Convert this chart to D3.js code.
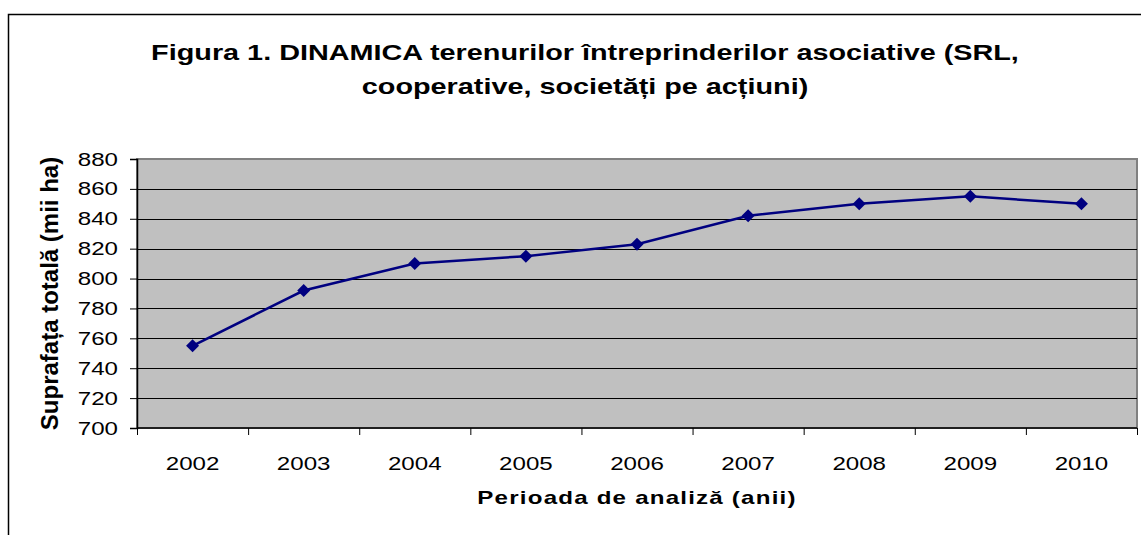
<!DOCTYPE html>
<html>
<head>
<meta charset="utf-8">
<script src="https://cdn.jsdelivr.net/npm/d3@7"></script>
<style>
  body { margin: 0; background: #fff; }
  text { font-family: Arial, "Liberation Sans", sans-serif; fill: #000; }
</style>
</head>
<body>
<div id="chart"></div>
<script>
const years = ["2002", "2003", "2004", "2005", "2006", "2007", "2008", "2009", "2010"];
const surface = [755, 792, 810, 815, 823, 842, 850, 855, 850];
const yTicks = [700, 720, 740, 760, 780, 800, 820, 840, 860, 880];
const titleLines = [
    "Figura 1. DINAMICA terenurilor întreprinderilor asociative (SRL,",
    "cooperative, societăți pe acțiuni)"
];

const width = 1141, height = 535;
const plot = { left: 137, top: 159, right: 1137, bottom: 428 };
// the source picture is stretched sideways, so text is widened to match
const sx = 1.34;

const svg = d3.select("#chart").append("svg")
    .attr("width", width)
    .attr("height", height);

// outer chart frame
svg.append("rect")
    .attr("x", 8.5).attr("y", 14.5)
    .attr("width", width + 20).attr("height", height + 20)
    .attr("fill", "none")
    .attr("stroke", "#000")
    .attr("stroke-width", 1.5);

const x = d3.scaleBand().domain(years).range([plot.left, plot.right]);
const y = d3.scaleLinear().domain([700, 880]).range([plot.bottom, plot.top]);

// plot area
svg.append("rect")
    .attr("x", plot.left).attr("y", plot.top)
    .attr("width", plot.right - plot.left).attr("height", plot.bottom - plot.top)
    .attr("fill", "#c0c0c0")
    .attr("stroke", "#808080")
    .attr("stroke-width", 2);

// gridlines
svg.append("g")
    .selectAll("line")
    .data(yTicks.slice(1, -1))
    .join("line")
    .attr("x1", plot.left).attr("x2", plot.right)
    .attr("y1", d => Math.round(y(d)) + 0.5).attr("y2", d => Math.round(y(d)) + 0.5)
    .attr("stroke", "#000")
    .attr("stroke-width", 1);

// y axis
const yAxis = svg.append("g")
    .attr("transform", `translate(${plot.left},0)`)
    .call(d3.axisLeft(y).tickValues(yTicks).tickSize(7).tickFormat(""));
yAxis.select(".domain").attr("stroke", "#000").attr("stroke-width", 1.5);
yAxis.selectAll(".tick line").attr("stroke", "#000");

svg.append("g")
    .selectAll("text")
    .data(yTicks)
    .join("text")
    .attr("transform", d => `translate(118,${y(d) + 6.5}) scale(${sx},1)`)
    .attr("text-anchor", "end")
    .attr("font-size", 18)
    .text(d => d);

// x axis: ticks on category boundaries
const xAxisG = svg.append("g")
    .attr("transform", `translate(0,${plot.bottom})`);
xAxisG.append("line")
    .attr("x1", plot.left).attr("x2", plot.right)
    .attr("stroke", "#000").attr("stroke-width", 1.5);
xAxisG.selectAll(".bt")
    .data(years.concat(["end"]))
    .join("line")
    .attr("class", "bt")
    .attr("x1", (d, i) => plot.left + i * x.step() + 0.5)
    .attr("x2", (d, i) => plot.left + i * x.step() + 0.5)
    .attr("y1", 0).attr("y2", 7)
    .attr("stroke", "#000");
xAxisG.selectAll("text")
    .data(years)
    .join("text")
    .attr("transform", d => `translate(${x(d) + x.bandwidth() / 2},42) scale(${sx},1)`)
    .attr("text-anchor", "middle")
    .attr("font-size", 18)
    .text(d => d);

// line
svg.append("path")
    .datum(surface)
    .attr("d", d3.line().x((d, i) => x(years[i]) + x.bandwidth() / 2).y(d => y(d)))
    .attr("fill", "none")
    .attr("stroke", "#000080")
    .attr("stroke-width", 2.5);

// diamond markers
svg.append("g")
    .selectAll("path")
    .data(surface)
    .join("path")
    .attr("transform", (d, i) => `translate(${x(years[i]) + x.bandwidth() / 2},${y(d)})`)
    .attr("d", "M0,-6.5L6.5,0L0,6.5L-6.5,0Z")
    .attr("fill", "#000080");

// title
svg.append("g")
    .selectAll("text")
    .data(titleLines)
    .join("text")
    .attr("transform", (d, i) => `translate(585,${60 + i * 34}) scale(${sx},1)`)
    .attr("text-anchor", "middle")
    .attr("font-size", 21.5)
    .attr("font-weight", "bold")
    .text(d => d);

// axis titles
svg.append("text")
    .attr("transform", `translate(58,${(plot.top + plot.bottom) / 2}) rotate(-90)`)
    .attr("text-anchor", "middle")
    .attr("font-size", 24)
    .attr("font-weight", "bold")
    .text("Suprafața totală (mii ha)");

svg.append("text")
    .attr("transform", `translate(${(plot.left + plot.right) / 2},504) scale(${sx},1)`)
    .attr("text-anchor", "middle")
    .attr("font-size", 18)
    .attr("font-weight", "bold")
    .attr("letter-spacing", 0.9)
    .text("Perioada de analiză (anii)");
</script>
</body>
</html>
